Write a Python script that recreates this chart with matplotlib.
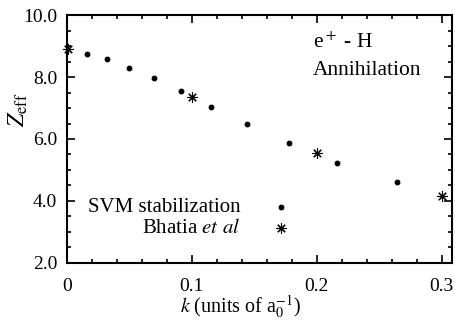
import matplotlib
matplotlib.use("Agg")
import matplotlib.pyplot as plt
from matplotlib.ticker import MultipleLocator, FixedFormatter, FixedLocator

# SVM stabilization results
svm_k = [0.016, 0.032, 0.050, 0.070, 0.091, 0.115, 0.144, 0.178, 0.216, 0.264]
svm_z = [8.74, 8.58, 8.29, 7.97, 7.55, 7.03, 6.48, 5.87, 5.23, 4.61]

# Bhatia et al
bh_k = [0.001, 0.1, 0.2, 0.3]
bh_z = [8.9, 7.35, 5.55, 4.16]

x_ticks = [0, 0.1, 0.2, 0.3]
x_labels = ["0", "0.1", "0.2", "0.3"]
y_ticks = [2, 4, 6, 8, 10]
y_labels = ["2.0", "4.0", "6.0", "8.0", "10.0"]

plt.rcParams['font.family'] = ['Liberation Serif', 'DejaVu Serif']
plt.rcParams['mathtext.fontset'] = 'stix'

fig = plt.figure(figsize=(4.55, 3.21), dpi=100)
ax = fig.add_axes([0.147, 0.181, 0.846, 0.772])

star = (8, 2, 0)
ax.plot(svm_k, svm_z, 'o', color='black', markersize=3.2, linestyle='none', clip_on=False)
ax.plot(bh_k, bh_z, marker=star, color='black', markersize=7.5, markeredgewidth=0.8,
        linestyle='none', clip_on=False)

ax.set_xlim(0, 0.308)
ax.set_ylim(2, 10)
ax.xaxis.set_major_locator(FixedLocator(x_ticks))
ax.xaxis.set_major_formatter(FixedFormatter(x_labels))
ax.yaxis.set_major_locator(FixedLocator(y_ticks))
ax.yaxis.set_major_formatter(FixedFormatter(y_labels))
ax.xaxis.set_minor_locator(MultipleLocator(0.02))
ax.yaxis.set_minor_locator(MultipleLocator(0.5))
ax.tick_params(which='both', direction='in', top=True, right=True, labelsize=14, width=1.2)
ax.tick_params(which='major', length=6, pad=7)
ax.tick_params(axis='x', which='major', pad=11)
ax.tick_params(which='minor', length=3)
for s in ax.spines.values():
    s.set_linewidth(1.5)

ax.set_xlabel(r'$k$ (units of a$_0^{-1}$)', fontsize=14.5)
ax.xaxis.set_label_coords(0.452, -0.125)
ax.set_ylabel(r'$Z_{\rm eff}$', fontsize=17)
ax.yaxis.set_label_coords(-0.095, 0.62)

ax.text(0.197, 8.95, r'e$^+$ - H', fontsize=15.5)
ax.text(0.197, 8.05, 'Annihilation', fontsize=15.5)

# legend by hand
ax.text(0.139, 3.8, 'SVM stabilization', fontsize=15, ha='right', va='center')
ax.text(0.139, 3.12, r'Bhatia $et$ $al$', fontsize=15, ha='right', va='center')
ax.plot([0.171], [3.8], 'o', color='black', markersize=3.2)
ax.plot([0.171], [3.12], marker=star, color='black', markersize=7.5, markeredgewidth=0.8)

fig.savefig('out.png', dpi=100)
